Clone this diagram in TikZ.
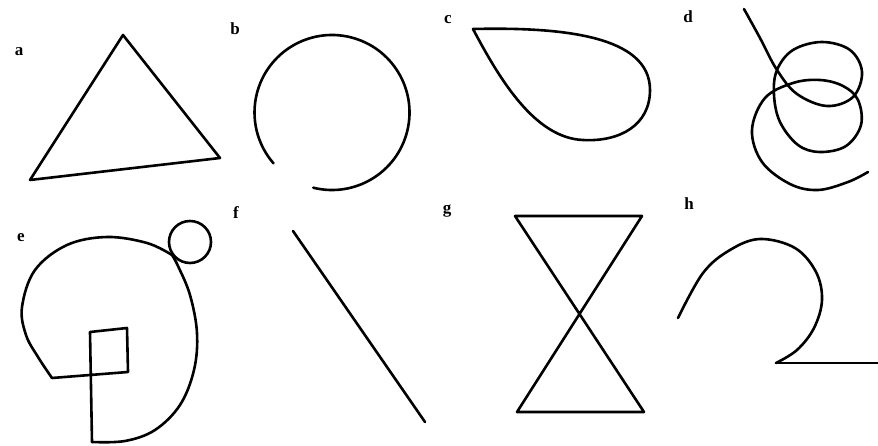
\documentclass[tikz,border=0pt]{standalone}
\usepackage{fontspec}
\setmainfont{Liberation Serif}
\begin{document}
\begin{tikzpicture}[x=1pt,y=-1pt,
  figline/.style={line width=2.6pt,line join=round,line cap=round},
  lbl/.style={anchor=base,inner sep=0pt,font=\fontsize{17}{17}\selectfont\bfseries}]
\useasboundingbox (0,0) rectangle (878,446);
% labels
\node[lbl] (la) at (19,56) {a};
\node[lbl] (lb) at (235,35) {b};
\node[lbl] (lc) at (448,24) {c};
\node[lbl] (ld) at (688,23) {d};
\node[lbl] (le) at (21,242) {e};
\node[lbl] (lf) at (236,219) {f};
\node[lbl] (lg) at (447,214) {g};
\node[lbl] (lh) at (689,210) {h};
% a triangle
\draw[figline] (123,35) -- (220,158) -- (30,180) -- cycle;
% b circle arc
\draw[figline] (332,112.5) ++(104:77.5) arc[start angle=104,end angle=-221,radius=77.5];
% c teardrop
\draw[figline] (473,29) .. controls (560,27) and (650,35) .. (650,90)
  .. controls (650,125) and (620,142) .. (583,140)
  .. controls (535,138) and (500,80) .. (473,29) -- cycle;
% d spiral
\draw[figline] plot[smooth,tension=0.6] coordinates {(744,9) (760,38) (777,70) (797,94) (827,106) (853,97) (862,72) (850,50) (822,42) (793,50) (777,70) (774,95) (780,122) (798,145) (820,152) (846,146) (861,125) (858,100) (843,86) (820,80) (793,83) (765,98) (752,130) (762,162) (790,184) (818,190) (848,182) (868,172)};
% e
\draw[figline] (52,378) -- (128,372) -- (127,328) -- (90,332) -- (92,442);
\draw[figline] plot[smooth,tension=0.6] coordinates {(92,442) (125,441) (155,430) (180,405) (194,370) (197,333) (190,295) (178,266) (172,255)};
\draw[figline] plot[smooth,tension=0.6] coordinates {(172,255) (147,243) (107,237) (67,245) (35,270) (22,307) (26,335) (38,357) (52,378)};
\draw[figline] (190,242) circle[radius=21];
% f
\draw[figline] (293,231) -- (425,422);
% g hourglass
\draw[figline] (515,216) -- (642,216) -- (517,412) -- (644,412) -- cycle;
% h
\draw[figline] plot[smooth,tension=0.6] coordinates {(678,318) (703,273) (730,250) (760,239) (795,248) (816,272) (822,300) (814,328) (797,350) (776,363)};
\draw[figline] (776,363) -- (878,363);
\end{tikzpicture}
\end{document}
